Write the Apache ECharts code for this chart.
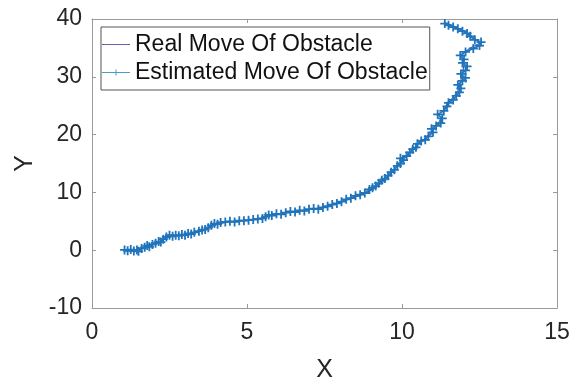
<!DOCTYPE html>
<html>
<head>
<meta charset="utf-8">
<script src="https://cdn.jsdelivr.net/npm/echarts@6/dist/echarts.min.js"></script>
<style>
  html, body { margin: 0; padding: 0; background: #fff; }
  #chart { width: 579px; height: 381px; }
</style>
</head>
<body>
<div id="chart"></div>
<script>
// Axis ranges and ticks
const xTicks = [0, 5, 10, 15];
const yTicks = [-10, 0, 10, 20, 30, 40];

// Ground-truth path of the obstacle (x, y)
const realMove = [
  [1.05, 0.0], [1.3, 0.05], [1.5, 0.1], [1.7, 0.6], [1.9, 0.9], [2.1, 1.3],
  [2.3, 1.8], [2.5, 2.3], [2.8, 2.6], [3.1, 2.8], [3.4, 3.2], [3.7, 3.7],
  [4.0, 4.4], [4.3, 4.8], [4.6, 5.0], [5.0, 5.2], [5.4, 5.5], [5.7, 5.9],
  [6.0, 6.3], [6.4, 6.6], [6.8, 6.9], [7.2, 7.2], [7.6, 7.6], [8.0, 8.3],
  [8.4, 9.0], [8.8, 9.8], [9.1, 10.7], [9.4, 11.8], [9.6, 12.9], [9.8, 14.2],
  [10.0, 15.4], [10.2, 16.6], [10.45, 18.0], [10.7, 19.2], [10.95, 20.4],
  [11.15, 21.8], [11.3, 23.2], [11.4, 24.9], [11.6, 26.2], [11.8, 27.5],
  [11.9, 29.5], [11.95, 30.5], [12.0, 32.0], [11.92, 33.9], [12.2, 35.0],
  [12.55, 35.9], [12.3, 36.8], [12.1, 37.7], [11.75, 38.6], [11.38, 39.4]
];

// Filtered estimate of the obstacle path (x, y)
const estimatedMove = [
  [1.05, 0.05], [1.15, -0.1], [1.25, 0.1], [1.35, -0.15], [1.45, 0.05], [1.5, -0.2],
  [1.6, 0.3], [1.7, 0.5], [1.78, 0.8], [1.85, 0.6], [1.95, 1.0], [2.05, 1.2],
  [2.15, 1.5], [2.22, 1.4], [2.3, 1.9], [2.4, 2.3], [2.5, 2.6], [2.6, 2.4],
  [2.7, 2.6], [2.8, 2.5], [2.9, 2.7], [3.0, 2.6], [3.1, 2.9], [3.2, 2.8],
  [3.3, 3.1], [3.45, 3.3], [3.55, 3.5], [3.65, 3.6], [3.75, 3.9], [3.85, 4.3],
  [3.95, 4.6], [4.05, 4.5], [4.15, 4.8], [4.3, 4.9], [4.45, 5.0], [4.6, 4.9],
  [4.75, 5.1], [4.9, 5.1], [5.05, 5.2], [5.2, 5.3], [5.35, 5.4], [5.5, 5.5],
  [5.6, 5.8], [5.7, 6.1], [5.8, 6.0], [5.95, 6.3], [6.1, 6.2], [6.25, 6.5],
  [6.4, 6.7], [6.55, 6.6], [6.7, 6.9], [6.85, 6.8], [7.0, 7.1], [7.15, 7.2],
  [7.3, 7.1], [7.45, 7.4], [7.6, 7.6], [7.75, 7.9], [7.9, 8.1], [8.05, 8.4],
  [8.2, 8.8], [8.35, 9.0], [8.5, 9.4], [8.65, 9.6], [8.8, 9.9], [8.95, 10.5],
  [9.05, 10.8], [9.15, 11.1], [9.25, 11.6], [9.35, 12.1], [9.45, 12.4], [9.55, 12.9],
  [9.65, 13.5], [9.75, 13.9], [9.85, 14.6], [9.95, 15.0], [10.05, 15.6], [9.95, 15.9],
  [10.15, 16.3], [10.25, 16.9], [10.35, 17.5], [10.45, 17.8], [10.5, 18.4], [10.62, 18.9],
  [10.75, 19.1], [10.85, 19.7], [11.0, 20.4], [10.95, 21.0], [11.1, 21.5], [11.25, 22.0],
  [11.3, 22.8], [11.15, 23.5], [11.35, 24.1], [11.45, 24.9], [11.5, 25.5], [11.65, 26.0],
  [11.75, 26.7], [11.85, 27.3], [11.9, 28.0], [11.8, 28.6], [11.95, 29.3], [12.05, 29.8],
  [11.9, 30.5], [12.05, 31.1], [12.1, 31.8], [11.95, 32.4], [12.0, 33.0], [11.88, 33.7],
  [12.05, 34.3], [12.3, 34.9], [12.5, 35.4], [12.55, 36.0], [12.35, 36.4], [12.2, 37.0],
  [12.1, 37.5], [11.95, 37.9], [11.8, 38.3], [11.65, 38.6], [11.5, 38.9], [11.38, 39.2]
];

const seriesNames = ['Real Move Of Obstacle', 'Estimated Move Of Obstacle'];

const FONT = '"Liberation Sans", Arial, Helvetica, sans-serif';
const AXIS_GRAY = '#9a9a9a';
const TEXT = '#262626';
const REAL_COLOR = '#3f3f9c';
const EST_COLOR = '#1f74bb';
const PLUS = 'path://M4,0H6V4H10V6H6V10H4V6H0V4H4Z';
// legend keys: plain line, and line with a small plus at its middle
const LINE_KEY = 'path://M0,4.6H28V5.4H0Z';
const PLUS_KEY = 'path://M0,4.6H13.5V2H14.5V4.6H28V5.4H14.5V8H13.5V5.4H0Z';

const boxAxis = {
  axisLine: { show: true, onZero: false, lineStyle: { color: AXIS_GRAY, width: 1 } },
  axisTick: { show: true, inside: true, length: 4, lineStyle: { color: AXIS_GRAY } },
  splitLine: { show: false }
};

const chart = echarts.init(document.getElementById('chart'), null, { renderer: 'canvas' });

chart.setOption({
  animation: false,
  backgroundColor: '#fff',
  textStyle: { fontFamily: FONT },
  grid: {
    left: 92, right: 22, top: 19, bottom: 73,
    containLabel: false,
    outerBoundsMode: 'none'
  },
  legend: {
    orient: 'vertical',
    left: 101,
    top: 27,
    padding: [6, 2, 6, 1],
    itemGap: 5,
    itemWidth: 28,
    itemHeight: 10,
    itemTextGap: 3,
    backgroundColor: '#fff',
    borderColor: '#555',
    borderWidth: 1,
    borderRadius: 0,
    textStyle: { fontFamily: FONT, fontSize: 23, color: '#111' },
    data: [
      { name: seriesNames[0], icon: LINE_KEY, itemStyle: { color: REAL_COLOR } },
      { name: seriesNames[1], icon: PLUS_KEY, itemStyle: { color: '#4a9ccc' } }
    ]
  },
  xAxis: [
    Object.assign({
      type: 'value', position: 'bottom',
      min: xTicks[0], max: xTicks[xTicks.length - 1], interval: 5,
      name: 'X', nameLocation: 'middle', nameGap: 50,
      nameTextStyle: { fontFamily: FONT, fontSize: 25, color: TEXT },
      axisLabel: { fontFamily: FONT, fontSize: 23, color: TEXT, margin: 13 }
    }, boxAxis),
    Object.assign({
      type: 'value', position: 'top',
      min: xTicks[0], max: xTicks[xTicks.length - 1], interval: 5,
      axisLabel: { show: false }
    }, boxAxis)
  ],
  yAxis: [
    Object.assign({
      type: 'value', position: 'left',
      min: yTicks[0], max: yTicks[yTicks.length - 1], interval: 10,
      name: 'Y', nameLocation: 'middle', nameGap: 44,
      nameTextStyle: { fontFamily: FONT, fontSize: 25, color: TEXT },
      axisLabel: { fontFamily: FONT, fontSize: 23, color: TEXT, margin: 10 }
    }, boxAxis),
    Object.assign({
      type: 'value', position: 'right',
      min: yTicks[0], max: yTicks[yTicks.length - 1], interval: 10,
      axisLabel: { show: false }
    }, boxAxis)
  ],
  series: [
    {
      name: seriesNames[0],
      type: 'line',
      data: realMove,
      showSymbol: false,
      symbol: 'none',
      lineStyle: { color: REAL_COLOR, width: 1 },
      itemStyle: { color: REAL_COLOR },
      z: 2
    },
    {
      name: seriesNames[1],
      type: 'line',
      data: estimatedMove,
      symbol: PLUS,
      symbolSize: 9,
      showAllSymbol: true,
      lineStyle: { color: EST_COLOR, width: 1.5 },
      itemStyle: { color: EST_COLOR },
      z: 3
    }
  ]
});
</script>
</body>
</html>
